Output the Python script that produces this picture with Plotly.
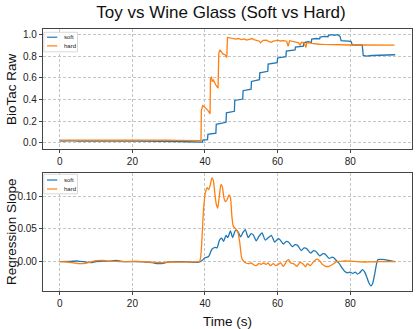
import plotly.graph_objects as go
from plotly.subplots import make_subplots

# ---------------- data ----------------
# Top panel: BioTac raw (normalised)
soft_t = [0, 1, 3, 5, 7, 9, 11, 13, 15, 17, 19, 21, 23, 25, 27, 29, 31, 33, 35, 37, 38.5, 39.3,
          39.4, 40.7, 40.8, 43.0, 43.1, 45.8, 45.9, 48.1, 48.2, 50.4, 50.5, 52.7,
          52.8, 55.0, 55.1, 57.3, 57.4, 59.9, 60.0, 62.3, 62.4, 64.8, 64.9, 67.1,
          67.2, 68.3, 69.3, 69.4, 70.6, 71.6, 71.7, 73.0, 73.9,
          74.0, 75.0, 75.6, 76.5, 77.2, 77.5, 78.5, 80.2, 80.6, 83.3,
          83.6, 84.5, 86, 88, 90, 92.4]
soft_raw = [0.018, 0.016, 0.020, 0.015, 0.018, 0.014, 0.017, 0.016, 0.018, 0.015, 0.016, 0.017,
            0.015, 0.016, 0.013, 0.014, 0.012, 0.011, 0.010, 0.008, 0.006, 0.007,
            0.025, 0.030, 0.078, 0.090, 0.172, 0.190, 0.278, 0.292, 0.392, 0.405, 0.482, 0.497,
            0.568, 0.584, 0.648, 0.662, 0.728, 0.742, 0.785, 0.798, 0.848, 0.860, 0.885, 0.895,
            0.925, 0.935, 0.930, 0.960, 0.965, 0.962, 0.978, 0.985, 0.982,
            0.995, 1.000, 0.995, 1.000, 0.985, 0.945, 0.940, 0.938, 0.905, 0.905,
            0.808, 0.803, 0.808, 0.810, 0.812, 0.815]

hard_t = [0, 2, 4, 6, 8, 10, 12, 14, 16, 18, 20, 22, 24, 26, 28, 30, 32, 34, 36, 38, 38.9,
          39.0, 39.4, 39.8, 40.3, 40.8, 41.4,
          41.5, 41.8, 42.0, 42.3, 42.7, 43.0, 43.6,
          43.8, 44.1, 44.5, 45.0, 45.5, 46.0,
          46.2, 47.0, 47.8, 48.5, 49.2, 50.0, 50.8, 51.5, 52.2, 53.0,
          53.5, 54.3, 55.0, 55.3, 56.0, 57.0, 57.6, 58.3, 58.8, 59.5,
          60.0, 60.8, 61.6, 62.5, 62.9, 63.3, 64.0, 65.0, 65.8, 66.2,
          66.6, 67.3, 67.8, 68.0, 68.4, 69.4, 70.2, 70.8, 71.5, 72.7,
          74, 76, 78, 80, 82, 84, 86, 88, 90, 92.2]
hard_raw = [0.025, 0.024, 0.026, 0.022, 0.025, 0.023, 0.025, 0.024, 0.026, 0.023, 0.024, 0.025,
            0.023, 0.024, 0.022, 0.024, 0.023, 0.022, 0.023, 0.022, 0.021,
            0.300, 0.345, 0.335, 0.320, 0.300, 0.268,
            0.590, 0.610, 0.565, 0.580, 0.550, 0.535, 0.505,
            0.830, 0.860, 0.840, 0.820, 0.815, 0.790,
            0.975, 0.972, 0.968, 0.960, 0.965, 0.955, 0.962, 0.950, 0.958, 0.965,
            0.955, 0.950, 0.940, 0.925, 0.948, 0.950, 0.935, 0.930, 0.940, 0.945,
            0.950, 0.942, 0.945, 0.940, 0.892, 0.945, 0.938, 0.935, 0.925, 0.905,
            0.930, 0.925, 0.882, 0.920, 0.928, 0.920, 0.915, 0.918, 0.912, 0.910,
            0.908, 0.907, 0.906, 0.905, 0.905, 0.904, 0.905, 0.904, 0.905, 0.903]

# Bottom panel: regression slope
soft_slope_t = [0, 3, 5, 7, 8.5, 10, 12, 13.5, 15.5, 17, 19, 21, 23, 25.5, 27, 28.5, 30, 33, 36,
                38.0, 39.0, 40.0, 41.0, 41.9, 42.8, 43.3, 44.0, 44.6, 45.1, 45.8, 46.3, 47.0, 47.6,
                48.4, 49.1, 49.8, 50.5, 51.1, 51.9, 52.7, 53.3, 54.1, 54.9, 55.7, 56.6, 57.5, 58.3,
                59.2, 60.1, 60.6, 61.6, 62.4, 63.0, 64.1, 64.8, 65.5, 66.5, 67.3, 68.0, 69.1, 69.9,
                70.5, 71.6, 72.4, 73.0, 74.2, 75.0, 75.5, 76.3, 77.0, 77.8, 78.5, 79.3, 80.0, 80.7,
                81.4, 82.0, 82.6, 83.4, 84.0, 84.6, 85.2, 85.7, 86.2, 86.7, 87.2, 87.6, 88.3, 89.5,
                90.5, 91.5, 92.4]
soft_slope = [0.0, 0.0005, 0.001, -0.0005, -0.0015, 0.0, 0.001, 0.0005, 0.0018, 0.0005, 0.0, 0.0003,
              -0.0002, -0.0015, -0.003, -0.0025, -0.0005, 0.0, -0.0005,
              -0.001, 0.001, 0.006, 0.008, 0.019, 0.022, 0.021, 0.033, 0.036, 0.031, 0.040, 0.037,
              0.047, 0.037, 0.048, 0.046, 0.038, 0.045, 0.049, 0.037, 0.043, 0.041, 0.032, 0.039,
              0.044, 0.033, 0.037, 0.040, 0.030, 0.035, 0.034, 0.027, 0.031, 0.030, 0.023, 0.026,
              0.025, 0.017, 0.021, 0.020, 0.013, 0.017, 0.016, 0.009, 0.012, 0.012, 0.005, 0.007,
              0.006, 0.001, -0.003, -0.010, -0.015, -0.017, -0.016, -0.018, -0.016, -0.019, -0.017,
              -0.012, -0.016, -0.024, -0.033, -0.037, -0.033, -0.020, -0.005, 0.003, 0.0035, 0.003,
              0.002, 0.001, 0.000]

hard_slope_t = [0, 2, 4, 5.5, 7, 8.5, 10, 12, 13.5, 15, 17, 20, 23, 26, 28, 30, 33, 36,
                38.5, 39.0, 39.6, 40.1, 40.6, 41.0, 41.4, 41.9, 42.3, 42.7, 43.1, 43.5, 43.9, 44.4,
                44.8, 45.2, 45.6, 46.1, 46.6, 47.0, 47.4, 47.8, 48.5, 49.1, 49.6, 50.1, 50.6, 51.3,
                52.0, 52.8, 53.5, 54.1, 54.8, 55.5, 56.1, 56.8, 57.4, 58.0, 58.8, 59.5, 60.2, 60.8,
                61.6, 62.5, 63.0, 63.6, 64.4, 65.3, 66.2, 67.1, 67.7, 68.2, 69.0, 69.9, 70.8, 71.5,
                72.3, 73.2, 74.2, 75.2, 76.3, 78, 80, 82, 84, 86, 88, 90, 92.4]
hard_slope = [0.0, -0.0005, -0.002, -0.003, -0.0025, -0.0005, 0.0015, 0.002, 0.001, 0.0005, 0.0,
              0.0005, 0.0, -0.001, -0.0015, -0.0005, -0.0008, -0.0003,
              0.0005, 0.020, 0.080, 0.105, 0.113, 0.110, 0.116, 0.128, 0.124, 0.105, 0.088, 0.082,
              0.098, 0.118, 0.114, 0.098, 0.092, 0.095, 0.102, 0.098, 0.070, 0.054, 0.050, 0.044,
              0.028, 0.006, 0.001, -0.002, -0.003, -0.002, -0.005, -0.006, -0.003, -0.004, -0.002,
              -0.004, -0.002, -0.006, -0.003, -0.006, -0.004, -0.002, -0.007, 0.001, 0.003, -0.002,
              -0.003, -0.007, -0.001, -0.004, -0.008, -0.003, -0.006, 0.000, 0.004, 0.002, -0.004,
              -0.007, -0.007, -0.004, 0.000, 0.001, 0.0008, 0.0, -0.0005, -0.0002, 0.0, 0.0, 0.0]

x_ticks = [0, 20, 40, 60, 80]
raw_ticks = [0.0, 0.2, 0.4, 0.6, 0.8, 1.0]
slope_ticks = [0.00, 0.05, 0.10]

for a, b in [(soft_t, soft_raw), (hard_t, hard_raw), (soft_slope_t, soft_slope),
             (hard_slope_t, hard_slope)]:
    assert len(a) == len(b), (len(a), len(b))

BLUE = "#1f77b4"
ORANGE = "#ff7f0e"
FONT = "Liberation Sans, Arial, sans-serif"

W, H = 416, 329
ML, MR, MT, MB = 43, 4, 29, 38

fig = make_subplots(rows=2, cols=1, vertical_spacing=0.09)
fig.add_trace(go.Scatter(x=soft_t, y=soft_raw, mode="lines", name="soft",
                         line=dict(color=BLUE, width=1.3)), row=1, col=1)
fig.add_trace(go.Scatter(x=hard_t, y=hard_raw, mode="lines", name="hard",
                         line=dict(color=ORANGE, width=1.3)), row=1, col=1)
fig.add_trace(go.Scatter(x=soft_slope_t, y=soft_slope, mode="lines", name="soft",
                         line=dict(color=BLUE, width=1.3, shape="spline", smoothing=0.6)),
              row=2, col=1)
fig.add_trace(go.Scatter(x=hard_slope_t, y=hard_slope, mode="lines", name="hard",
                         line=dict(color=ORANGE, width=1.3, shape="spline", smoothing=0.6)),
              row=2, col=1)

axis_common = dict(showline=True, mirror=True, linecolor="#444", linewidth=1.3,
                   ticks="outside", ticklen=3, tickcolor="#444", tickwidth=1,
                   showgrid=True, gridcolor="#c4c4c4", gridwidth=0.8, griddash="3px,2px",
                   zeroline=False, tickfont=dict(family=FONT, size=10, color="#222"))

fig.update_xaxes(range=[-4.62, 97.02], tickvals=x_ticks, **axis_common)
fig.update_yaxes(row=1, col=1, range=[-0.057, 1.053], tickvals=raw_ticks, tickformat=".1f",
                 **axis_common)
fig.update_yaxes(row=2, col=1, range=[-0.0448, 0.136], tickvals=slope_ticks, tickformat=".2f",
                 **axis_common)

fig.update_layout(
    width=W, height=H,
    margin=dict(l=ML, r=MR, t=MT, b=MB),
    plot_bgcolor="white", paper_bgcolor="white",
    showlegend=False,
    font=dict(family=FONT, color="#111"),
    title=dict(text="Toy vs Wine Glass (Soft vs Hard)", x=221 / W, xanchor="center",
               xref="container", y=1 - 12.5 / H, yanchor="middle", yref="container",
               font=dict(family=FONT, size=17, color="#111")),
)
# domains (pixel-matched)
plot_h = H - MT - MB
fig.update_yaxes(domain=[(H - MB - 291) / plot_h + 0.0, (291 - 172.7) / plot_h], row=2, col=1)
fig.update_yaxes(domain=[(291 - 149) / plot_h, 1.0], row=1, col=1)

plot_w = W - ML - MR


def px(x):
    return (x - ML) / plot_w


def py(y):
    return (H - MB - y) / plot_h


# axis titles as annotations
annos = [
    dict(text="BioTac Raw", x=px(11), y=py(89), textangle=-90),
    dict(text="Regression Slope", x=px(11), y=py(232), textangle=-90),
    dict(text="Time (s)", x=px(227.5), y=py(321), textangle=0),
]
for a in annos:
    fig.add_annotation(xref="paper", yref="paper", showarrow=False, xanchor="center",
                       yanchor="middle", font=dict(family=FONT, size=13.5, color="#111"), **a)

# hand-drawn small legends (matplotlib style) for each panel
for (top, l1, l2) in [(32.3, 37.2, 45.9), (174.3, 180.0, 189.0)]:
    fig.add_shape(type="rect", xref="paper", yref="paper", x0=px(43.8), x1=px(77.5),
                  y0=py(top), y1=py(top + 19.5), line=dict(color="#d0d0d0", width=0.8),
                  fillcolor="rgba(255,255,255,0.85)", layer="above")
    for yy, col, name in [(l1, BLUE, "soft"), (l2, ORANGE, "hard")]:
        fig.add_shape(type="line", xref="paper", yref="paper", x0=px(47), x1=px(57.3),
                      y0=py(yy), y1=py(yy), line=dict(color=col, width=1.2), layer="above")
        fig.add_annotation(xref="paper", yref="paper", x=px(61.5), y=py(yy), text=name,
                           showarrow=False, xanchor="left", yanchor="middle",
                           font=dict(family=FONT, size=6, color="#222"))

fig.write_html("out.html", config={"displayModeBar": False},
               post_script="document.body.style.margin='0';")
